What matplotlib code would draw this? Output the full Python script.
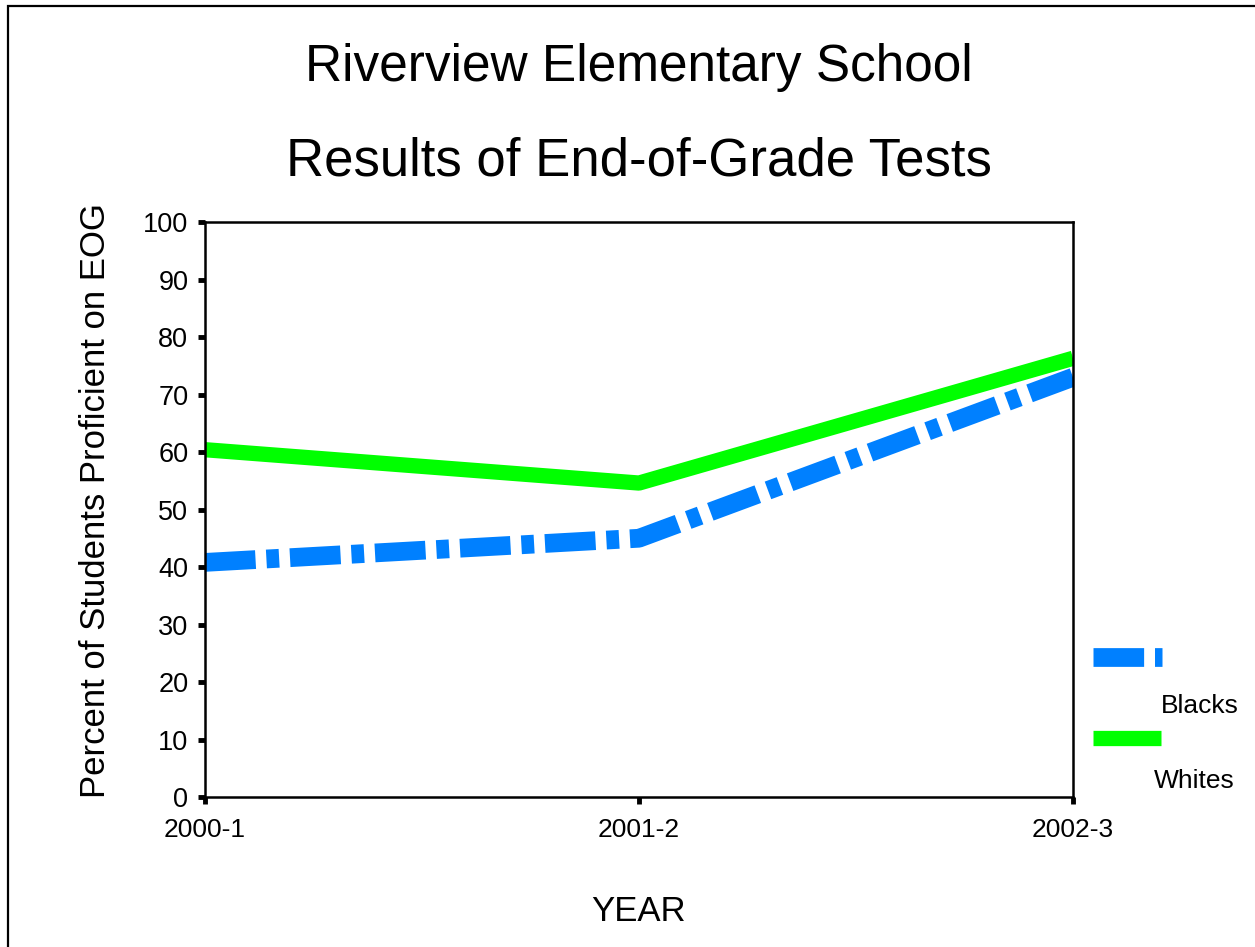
import matplotlib.pyplot as plt
from matplotlib.lines import Line2D
from matplotlib.patches import Rectangle

plt.rcParams['font.family'] = ['Liberation Sans', 'DejaVu Sans']

years = ['2000-1', '2001-2', '2002-3']
blacks = [40.8, 45.0, 73.0]
whites = [60.4, 54.6, 76.3]
yticks = [0, 10, 20, 30, 40, 50, 60, 70, 80, 90, 100]

blue = '#0080ff'
green = '#00ff00'
dash = [2.7, 0.58, 0.68, 0.58]

fig = plt.figure(figsize=(12.55, 9.47), dpi=100)
ax = fig.add_axes([205 / 1255, 1 - 797 / 947, 868 / 1255, 575 / 947])

x = range(len(years))
lb, = ax.plot(x, blacks, color=blue, lw=13.5, solid_capstyle='butt',
              dash_capstyle='butt', label='Blacks')
lb.set_dashes(dash)
ax.plot(x, whites, color=green, lw=11, solid_capstyle='butt', label='Whites')

ax.set_xlim(0, 2)
ax.set_ylim(0, 100)
ax.set_xticks(list(x))
ax.set_xticklabels(years, fontsize=19)
ax.set_yticks(yticks)
ax.set_yticklabels([str(v) for v in yticks], fontsize=19.5)
ax.tick_params(axis='y', length=5, width=3.5, pad=7, color='black')
ax.tick_params(axis='x', length=5, width=3.5, pad=10, color='black')
for s in ax.spines.values():
    s.set_linewidth(1.8)

ax.set_xlabel('YEAR', fontsize=25, labelpad=38)
ax.set_ylabel('Percent of Students Proficient on EOG', fontsize=25)
ax.yaxis.set_label_coords(-0.107, 0.515)

fig.text(639 / 1255, 1 - 68 / 947, 'Riverview Elementary School', fontsize=37,
         ha='center', va='center')
fig.text(639 / 1255, 1 - 162 / 947, 'Results of End-of-Grade Tests', fontsize=38,
         ha='center', va='center')

# legend drawn by hand: handle above its label
hb = Line2D([1093 / 1255, 1162 / 1255], [1 - 657 / 947] * 2, color=blue, lw=13.5,
            solid_capstyle='butt', dash_capstyle='butt', transform=fig.transFigure)
hb.set_dashes(dash)
fig.add_artist(hb)
fig.text(1200 / 1255, 1 - 706 / 947, 'Blacks', fontsize=19, ha='center', va='center')
fig.add_artist(Line2D([1093 / 1255, 1161 / 1255], [1 - 738 / 947] * 2, color=green,
                      lw=11, solid_capstyle='butt', transform=fig.transFigure))
fig.text(1194 / 1255, 1 - 781 / 947, 'Whites', fontsize=19, ha='center', va='center')

# outer frame (only left and top edges visible)
fig.add_artist(Rectangle((8 / 1255, -0.1), 1.1, 1.1 - 6 / 947, fill=False,
                         edgecolor='black', lw=1.6, transform=fig.transFigure))

fig.savefig('out.png', dpi=100)
